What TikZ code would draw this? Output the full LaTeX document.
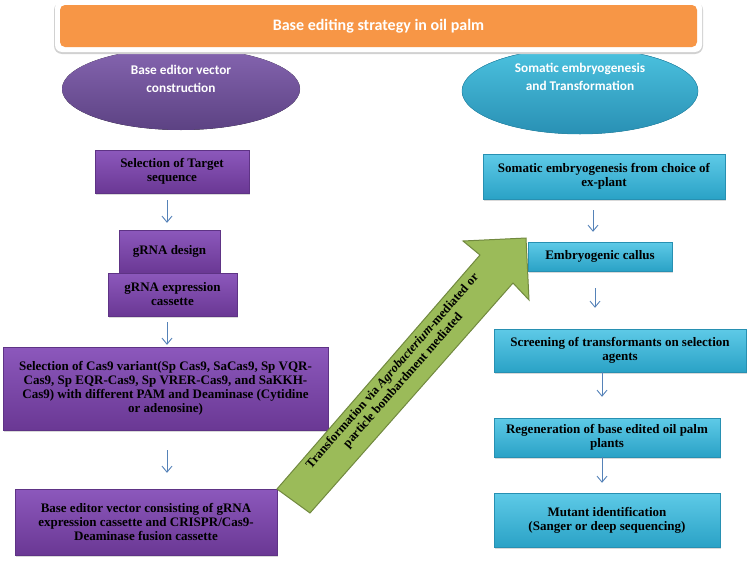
\documentclass[tikz,border=0pt]{standalone}
\usepackage{fontspec}
\setmainfont{Liberation Serif}
\newfontfamily\calfont{Carlito}
\usetikzlibrary{arrows.meta,shadows,calc}
\definecolor{orng}{HTML}{F79646}
\definecolor{purpT}{HTML}{8C58BC}
\definecolor{purpD}{HTML}{6A3894}
\definecolor{purpB}{HTML}{5E3385}
\definecolor{ellpT}{HTML}{8565B0}
\definecolor{ellpD}{HTML}{5C4283}
\definecolor{tealT}{HTML}{5ECAE7}
\definecolor{tealD}{HTML}{2AA2C6}
\definecolor{tealB}{HTML}{2790B2}
\definecolor{elltT}{HTML}{4CC3E0}
\definecolor{elltD}{HTML}{2990B4}
\definecolor{grn}{HTML}{9BBB59}
\definecolor{grnB}{HTML}{71893F}
\definecolor{arrc}{HTML}{5582B8}
\begin{document}
\begin{tikzpicture}[x=1pt,y=-1pt,
  boxtxt/.style={font=\bfseries\fontsize{13}{14}\selectfont, align=center, inner sep=0pt},
  pbox/.style={boxtxt, draw=purpB, line width=0.4pt, top color=purpT, bottom color=purpD,
     drop shadow={opacity=0.3, shadow xshift=1.2pt, shadow yshift=-1.5pt}},
  tbox/.style={boxtxt, draw=tealB, line width=0.4pt, top color=tealT, bottom color=tealD,
     drop shadow={opacity=0.3, shadow xshift=1.2pt, shadow yshift=-1.5pt}},
  ovaltxt/.style={font=\calfont\bfseries\fontsize{13.3}{18}\selectfont, text=white, align=center, inner sep=0pt},
  arr/.style={draw=arrc, line width=0.9pt, -{Straight Barb[length=6pt,width=10pt]}}
]
\useasboundingbox (0,0) rectangle (750,562);

% ovals
\fill[top color=ellpT, bottom color=ellpD] (181,89) ellipse [x radius=119pt, y radius=41pt];
\coordinate (E1) at (181,89);
\fill[top color=elltT, bottom color=elltD] (580,91) ellipse [x radius=118pt, y radius=43pt];
\draw[tealB, line width=0.5pt] (580,91) ellipse [x radius=118pt, y radius=43pt];
\coordinate (E2) at (580,91);
\node[ovaltxt] (E1t) at (181,79) {Base editor vector\\construction};
\node[ovaltxt] (E2t) at (580,77) {Somatic embryogenesis\\and Transformation};

% title bar
\fill[black!18, rounded corners=8pt] (54,2) rectangle (703,54);
\fill[white, rounded corners=7pt] (55,1) rectangle (702,52);
\node[fill=orng, rounded corners=5pt, minimum width=637pt, minimum height=42pt, inner sep=0pt,
      font=\calfont\bfseries\fontsize{16}{19}\selectfont, text=white] (T) at (378.5,26) {Base editing strategy in oil palm};

% left column
\node[pbox, minimum width=154pt, minimum height=43pt] (L1) at (172,171.5) {Selection of Target\\sequence};
\node[pbox, minimum width=101pt, minimum height=43pt] (L2) at (169.5,251.5) {gRNA design};
\node[pbox, minimum width=129pt, minimum height=43pt] (L3) at (172.5,294.5) {gRNA expression\\cassette};
\node[pbox, minimum width=325pt, minimum height=83pt] (L4) at (165.5,388.5)
  {Selection of Cas9 variant(Sp Cas9, SaCas9, Sp VQR-\\Cas9, Sp EQR-Cas9, Sp VRER-Cas9, and SaKKH-\\Cas9) with different PAM and Deaminase (Cytidine\\or adenosine)};
\node[pbox, minimum width=262pt, minimum height=66pt] (L5) at (146,522)
  {Base editor vector consisting of gRNA\\expression cassette and CRISPR/Cas9-\\Deaminase fusion cassette};

% right column
\node[tbox, minimum width=242pt, minimum height=45pt] (R1) at (604,176.5) {Somatic embryogenesis from choice of\\ex-plant};
\node[tbox, minimum width=144pt, minimum height=29pt] (R2) at (600,256.5) {Embryogenic callus};
\node[tbox, minimum width=252pt, minimum height=43pt] (R3) at (620,350.5) {Screening of transformants on selection\\agents};
\node[tbox, minimum width=226pt, minimum height=39pt] (R4) at (607,437.5) {Regeneration of base edited oil palm\\plants};
\node[tbox, minimum width=226pt, minimum height=54pt] (R5) at (607,520) {Mutant identification\\(Sanger or deep sequencing)};

% small arrows
\draw[arr] ([xshift=-5pt,yshift=-7pt]L1.south) -- ([xshift=-2.5pt,yshift=7pt]L2.north);
\draw[arr] ([xshift=-5.5pt,yshift=-6pt]L3.south) -- ([xshift=1.5pt,yshift=2pt]L4.north);
\draw[arr] ([xshift=1.5pt,yshift=-20pt]L4.south) -- ([xshift=21pt,yshift=16pt]L5.north);
\draw[arr] ([xshift=-11pt,yshift=-11pt]R1.south) -- ([xshift=-7pt,yshift=10pt]R2.north);
\draw[arr] ([xshift=-5pt,yshift=-17pt]R2.south) -- ([xshift=-25pt,yshift=21pt]R3.north);
\draw[arr] ([xshift=-18pt]R3.south) -- ([xshift=-5pt,yshift=21pt]R4.north);
\draw[arr] ([xshift=-5pt]R4.south) -- ([xshift=-5pt,yshift=10pt]R5.north);

% big green arrow
\filldraw[fill=grn, draw=grnB, line width=1pt, line join=miter]
  (277,489) -- (480,255) -- (463,241) -- (526,238) -- (529,300) -- (513,283) -- (310,513) -- cycle;
\node[rotate=48.8, font=\bfseries\fontsize{12.6}{14}\selectfont, align=center, inner sep=0pt] (GT) at (398,376)
  {Transformation via \textit{Agrobacterium}-mediated or\\particle bombardment mediated};
\end{tikzpicture}
\end{document}
